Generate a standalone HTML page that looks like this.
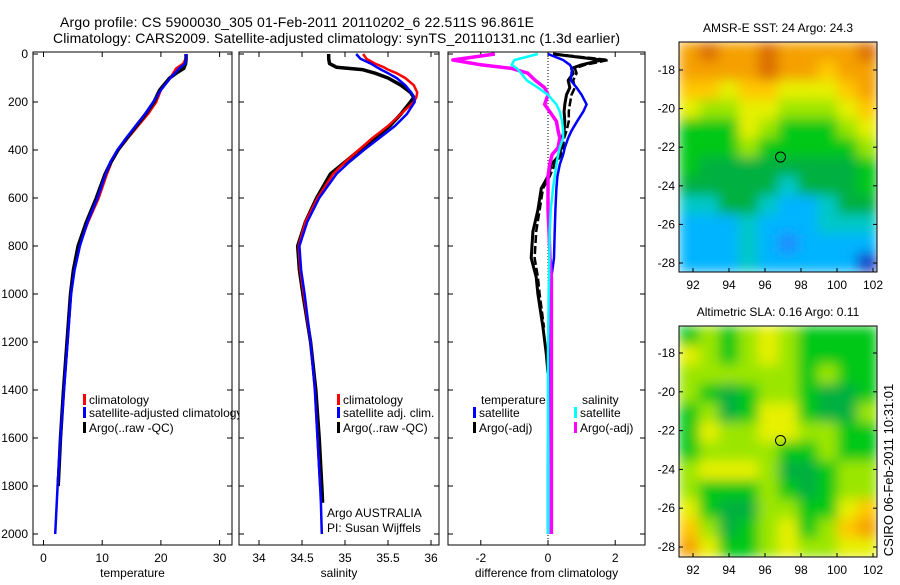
<!DOCTYPE html>
<html><head><meta charset="utf-8"><style>
body{margin:0;background:#fff}
svg text{font-family:"Liberation Sans",sans-serif;fill:#000}
</style></head><body>
<svg id="fig" width="900" height="580" viewBox="0 0 900 580" xmlns="http://www.w3.org/2000/svg">
<defs>
<filter id="blur" x="0" y="0" width="1" height="1"><feGaussianBlur stdDeviation="6" edgeMode="duplicate"/></filter>
<clipPath id="c1"><rect x="679" y="42" width="198" height="230"/></clipPath>
<clipPath id="c2"><rect x="679" y="326" width="198" height="231"/></clipPath>
</defs>
<text x="60" y="27" font-size="14" textLength="474">Argo profile: CS 5900030_305 01-Feb-2011 20110202_6 22.511S 96.861E</text>
<text x="53" y="43" font-size="14" textLength="567">Climatology: CARS2009. Satellite-adjusted climatology: synTS_20110131.nc (1.3d earlier)</text>
<g id="plots"></g>
<text transform="translate(893,470) rotate(-90)" text-anchor="middle" font-size="13">CSIRO 06-Feb-2011 10:31:01</text>
</svg>
<script>
// ---- data ----
const depthT=[0,20,40,60,80,100,150,200,250,300,350,400,450,500,600,700,800,900,1000,1200,1400,1600,1800,2000];
const climT=[24.2,24.2,23.8,22.6,22.1,21.6,20.0,19.2,17.8,16.1,14.4,12.8,11.6,10.8,9.4,7.6,6.1,5.2,4.6,4.0,3.4,2.9,2.4,2.0];
const satT=[24.3,24.3,24.1,23.1,22.4,21.6,20.0,18.7,17.3,15.7,14.1,12.6,11.4,10.6,9.2,7.5,6.2,5.3,4.7,4.1,3.5,2.9,2.4,2.0];
const argoT=[24.3,24.3,24.2,23.9,22.6,21.5,19.8,18.8,17.4,15.8,14.2,12.7,11.5,10.5,9.0,7.3,5.9,5.1,4.6,4.0,3.4,2.9,2.5];
const depthS=[0,20,40,55,65,80,100,130,160,180,200,250,300,350,400,450,500,600,700,800,900,1000,1200,1400,1600,1800,1870,2000];
const climS=[35.21,35.25,35.35,35.45,35.5,35.6,35.7,35.8,35.84,35.83,35.8,35.65,35.5,35.32,35.16,35.0,34.86,34.68,34.54,34.46,34.48,34.52,34.6,34.65,34.68,34.71,34.72,34.73];
const satS=[35.13,35.18,35.3,35.37,35.42,35.5,35.6,35.7,35.77,35.8,35.81,35.72,35.58,35.4,35.22,35.05,34.9,34.7,34.56,34.47,34.49,34.53,34.6,34.65,34.68,34.71,34.72,34.73];
const argoS=[34.81,34.81,34.82,34.9,35.2,35.35,35.5,35.65,35.76,35.8,35.76,35.65,35.52,35.35,35.17,35.0,34.83,34.67,34.54,34.45,34.47,34.51,34.6,34.66,34.70,34.73,34.74];
const depthD=[0,25,45,60,80,110,140,170,210,240,280,320,350,390,420,460,510,560,650,740,850,930,1000,1140,1250,1330,1500,1700,2000];
const satTd=[0,0.45,0.65,0.72,0.7,0.68,0.85,1.0,1.15,1.05,0.87,0.7,0.6,0.5,0.45,0.35,0.28,0.25,0.22,0.2,0.18,0.1,0.06,0.04,0.02,0.02,0.01,0.0,0.0];
const argoTd=[0.15,1.6,1.0,0.7,0.75,0.6,0.65,0.55,0.5,0.48,0.5,0.48,0.42,0.38,0.35,0.1,0.0,-0.2,-0.3,-0.45,-0.5,-0.35,-0.3,-0.15,-0.05,0.0];
const argoTd2=[0.2,1.8,1.1,0.8,0.85,0.75,0.8,0.7,0.65,0.62,0.62,0.55,0.48,0.45,0.4,0.2,0.05,-0.15,-0.25,-0.35,-0.4,-0.3,-0.25,-0.12];
const satSd=[-0.3,-1.0,-1.08,-0.93,-0.8,-0.63,-0.3,0.0,0.25,0.35,0.42,0.45,0.45,0.35,0.3,0.25,0.2,0.15,0.08,0.05,0.04,0.03,0.02,0.01,0.0,0.0,0.0,0.0,0.0];
const argoSd=[-1.58,-2.83,-2.0,-1.08,-0.6,-0.38,-0.1,0.0,-0.1,0.05,0.25,0.3,0.35,0.3,0.12,0.05,0.0,0.0,0.0,0.03,0.06,0.1,0.1,0.1,0.1,0.1,0.1,0.1,0.1];
const depthTicks=[0,200,400,600,800,1000,1200,1400,1600,1800,2000];
const tTicks=[0,10,20,30], sTicks=[34,34.5,35,35.5,36], dTicks=[-2,0,2];
const lonTicks=[92,94,96,98,100,102], latTicks=[-18,-20,-22,-24,-26,-28];
const sstGrid=[[7,8,7,7,8,7,7,7,7,8],[7,7,7,7,8,7,7,6,7,7],[6,6,5,6,6,5,5,5,6,7],[5,4,4,5,5,4,4,4,5,6],[3,3,3,5,4,3,3,3,4,5],[3,3,3,4,3,3,3,3,3,4],[3,2,2,2,2,2,2,2,2,3],[2,2,2,2,2,1,2,2,2,3],[1,1,2,2,1,0,0,1,2,2],[0,0,0,1,0,0,0,1,1,1],[0,0,0,1,0,-1,0,0,0,0],[0,0,0,1,0,0,0,0,0,-2]];
const slaGrid=[[3,4,3,4,5,4,3,3,3,3],[5,4,3,4,5,4,3,3,3,3],[4,4,4,4,4,4,3,4,3,3],[4,3,2,3,4,4,3,2,2,3],[3,4,2,3,5,5,3,2,2,4],[3,5,4,4,5,5,4,4,3,3],[3,4,4,4,4,3,3,4,3,3],[4,5,5,5,4,2,2,3,4,4],[4,3,3,3,4,3,2,3,4,4],[5,3,2,2,4,4,3,3,5,6],[6,4,2,3,4,5,3,4,6,7],[7,5,3,3,4,5,4,4,5,5]];
// ---- helpers ----
const NS="http://www.w3.org/2000/svg", root=document.getElementById('plots');
function mk(tag,attrs,parent){const e=document.createElementNS(NS,tag);for(const k in attrs)e.setAttribute(k,attrs[k]);(parent||root).appendChild(e);return e;}
const yD=d=>54+d*0.24;
const TOP=52,BOT=545;
const panels=[{x0:33,x1:232,sx:v=>43.5+v*5.87,ticks:tTicks,label:'temperature',name:'temperature-panel'},
 {x0:239,x1:439,sx:v=>345+(v-35)*86,ticks:sTicks,label:'salinity',name:'salinity-panel'},
 {x0:448,x1:645,sx:v=>548+v*33.6,ticks:dTicks,label:'difference from climatology',name:'difference-panel'}];
panels.forEach((p,i)=>{
 const g=mk('g',{});
 
 
 const r=mk('rect',{x:p.x0,y:TOP,width:p.x1-p.x0,height:BOT-TOP,fill:'#fff',stroke:'#000','stroke-width':1},g);
 
 
 depthTicks.forEach(d=>{const y=yD(d);mk('line',{x1:p.x0,x2:p.x0+5,y1:y,y2:y,stroke:'#000'},g);mk('line',{x1:p.x1-5,x2:p.x1,y1:y,y2:y,stroke:'#000'},g);
  if(i==0){const t=mk('text',{x:28,y:y+4,'text-anchor':'end','font-size':12},g);t.textContent=d;
   
   }});
 p.ticks.forEach(v=>{const x=p.sx(v);mk('line',{x1:x,x2:x,y1:BOT-5,y2:BOT,stroke:'#000'},g);mk('line',{x1:x,x2:x,y1:TOP,y2:TOP+5,stroke:'#000'},g);
  const t=mk('text',{x:x,y:562,'text-anchor':'middle','font-size':12},g);t.textContent=v;
  
  });
 const xl=mk('text',{x:(p.x0+p.x1)/2,y:577,'text-anchor':'middle','font-size':12},g);xl.textContent=p.label;
 
 
 p.g=g;
});
function line(p,depths,vals,color,w,name,dash){
 const pts=vals.map((v,i)=>p.sx(v).toFixed(1)+','+yD(depths[i]).toFixed(1)).join(' ');
 const e=mk('polyline',{points:pts,fill:'none',stroke:color,'stroke-width':w,'stroke-linejoin':'round'},p.g);
 if(dash)e.setAttribute('stroke-dasharray',dash);
 
 
}
const [P1,P2,P3]=panels;
line(P1,depthT,climT.slice(0,23),'#f00',2.5,'climatology-temperature-line');
line(P1,depthT,argoT,'#000',3.5,'argo-temperature-line');
line(P1,depthT,satT,'#00f',2.5,'satellite-temperature-line');
line(P2,depthS,argoS,'#000',3.5,'argo-salinity-line');
line(P2,depthS,climS.slice(0,26),'#f00',2.5,'climatology-salinity-line');
line(P2,depthS,satS,'#00f',2.5,'satellite-salinity-line');
const dz=mk('line',{x1:P3.sx(0),x2:P3.sx(0),y1:TOP,y2:BOT,stroke:'#000','stroke-dasharray':'1,2'},P3.g);


line(P3,depthD,argoTd,'#000',3,'argo-temperature-difference-line');
line(P3,depthD,argoTd2,'#000',2.5,'argo-temperature-difference-dashed-line','8,3');
line(P3,depthD,satTd,'#00f',2.5,'satellite-temperature-difference-line');
line(P3,depthD,argoSd,'#f0f',3.5,'argo-salinity-difference-line');
line(P3,depthD,satSd,'#0ff',2.5,'satellite-salinity-difference-line');
// legends
function leg(g,x,y,color,txt,name){const r=mk('rect',{x:x,y:y-10,width:3,height:11,fill:color},g);
 
 
 const t=mk('text',{x:x+6,y:y,'font-size':12},g);t.textContent=txt;
 
 }
leg(P1.g,83,404,'#f00','climatology','legend-climatology');
leg(P1.g,83,417,'#00f','satellite-adjusted climatology','legend-satellite-adjusted');
leg(P1.g,83,432,'#000','Argo(..raw -QC)','legend-argo');
leg(P2.g,337,404,'#f00','climatology','legend-climatology-sal');
leg(P2.g,337,417,'#00f','satellite adj. clim.','legend-satellite-sal');
leg(P2.g,337,432,'#000','Argo(..raw -QC)','legend-argo-sal');
[['Argo AUSTRALIA',517,'float-owner'],['PI: Susan Wijffels',532,'float-pi']].forEach(a=>{const t=mk('text',{x:327,y:a[1],'font-size':12},P2.g);t.textContent=a[0];
 
 });
[['temperature',481,404,'legend-temperature-heading'],['salinity',582,404,'legend-salinity-heading']].forEach(a=>{const t=mk('text',{x:a[1],y:a[2],'font-size':12},P3.g);t.textContent=a[0];
 
 });
leg(P3.g,473,417,'#00f','satellite','legend-temp-satellite');
leg(P3.g,473,432,'#000','Argo(-adj)','legend-temp-argo');
leg(P3.g,574,417,'#0ff','satellite','legend-sal-satellite');
leg(P3.g,574,432,'#f0f','Argo(-adj)','legend-sal-argo');
// maps
const cmap={'-2':'#0a3cc8','-1':'#1a8cff','0':'#00b4ff','1':'#00c8c8','2':'#00b040','3':'#00c814','4':'#9be600','5':'#e6f000','6':'#ffc800','7':'#f5a000','8':'#dc6e00'};
function map(title,grid,y0,y1,lat18,lat28,name,clip){
 const x0=679,x1=877,g=mk('g',{});
 
 
 const lx=v=>693+(v-92)*18, ly=v=>lat18+(-18-v)*(lat28-lat18)/10;
 const rows=grid.length,cols=grid[0].length,cw=(x1-x0)/cols,ch=(y1-y0)/rows;
 const cg=mk('g',{'clip-path':'url(#'+clip+')'},g);
 const bg=mk('g',{filter:'url(#blur)'},cg);
 grid.forEach((row,r)=>row.forEach((v,c)=>mk('rect',{x:x0+c*cw,y:y0+r*ch,width:cw+0.6,height:ch+0.6,fill:cmap[v]},bg)));
 const fr=mk('rect',{x:x0,y:y0,width:x1-x0,height:y1-y0,fill:'none',stroke:'#000'},g);
 
 
 lonTicks.forEach(v=>{const x=lx(v);mk('line',{x1:x,x2:x,y1:y1-4,y2:y1,stroke:'#000'},g);
  const t=mk('text',{x:x,y:y1+17,'text-anchor':'middle','font-size':12},g);t.textContent=v;
  
  });
 latTicks.forEach(v=>{const y=ly(v);mk('line',{x1:x0,x2:x0+4,y1:y,y2:y,stroke:'#000'},g);mk('line',{x1:x1-4,x2:x1,y1:y,y2:y,stroke:'#000'},g);
  const t=mk('text',{x:x0-4,y:y+4,'text-anchor':'end','font-size':12},g);t.textContent=v;
  
  });
 const c=mk('circle',{cx:lx(96.861),cy:ly(-22.511),r:5,fill:'none',stroke:'#000'},g);
 
 
 const t=mk('text',{x:(x0+x1)/2,y:y0-10,'text-anchor':'middle','font-size':12},g);t.textContent=title;
 
 
}
map('AMSR-E SST: 24 Argo: 24.3',sstGrid,42,272,70,263,'sst-map','c1');
map('Altimetric SLA: 0.16 Argo: 0.11',slaGrid,326,557,353,547,'sla-map','c2');
</script>
</body></html>
